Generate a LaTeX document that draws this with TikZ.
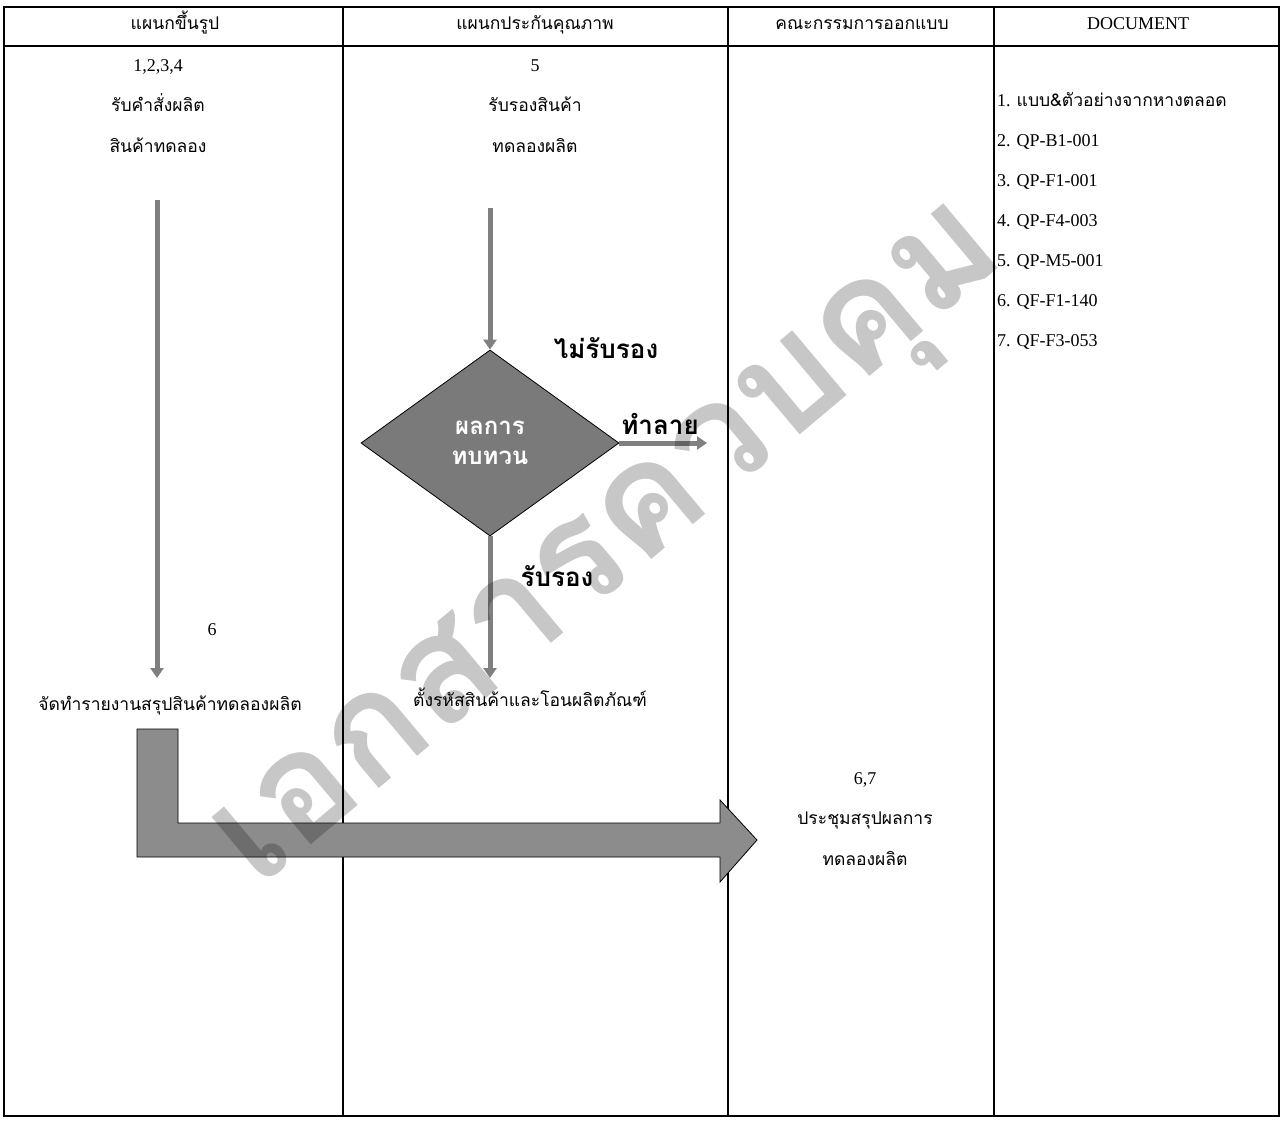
\documentclass[tikz,border=0pt]{standalone}
\usepackage{fontspec}
\setmainfont{Liberation Serif}
\newfontfamily\thaifont[Script=Thai]{Loma}
\usetikzlibrary{arrows.meta,shapes.geometric,positioning}

\tikzset{
  lane/.style = {line width=1.3pt},
  ln/.style = {inner sep=0pt, text height=12pt, text depth=5pt},
  th/.style = {ln, font=\thaifont\fontsize{17.5}{20}\selectfont},
  lat/.style = {ln, font=\fontsize{18}{20}\selectfont},
  big/.style = {inner sep=0pt, font=\thaifont\bfseries\fontsize{26}{30}\selectfont},
  decide/.style = {diamond, draw=black, fill=black!52, line width=0.8pt,
                   minimum width=258pt, minimum height=186pt, inner sep=0pt,
                   text=white, align=center,
                   font=\thaifont\bfseries\fontsize{24}{30}\selectfont},
  flow/.style = {draw=black!50, line width=5pt,
                 -{Triangle[width=13pt,length=10pt]}},
  block/.style = {draw=black, line width=0.8pt, fill=black!45},
  wm/.style = {inner sep=0pt, text=black, text opacity=0.22,
               font=\thaifont\bfseries\fontsize{152}{152}\selectfont}
}

\begin{document}
\begin{tikzpicture}[x=1pt, y=-1pt, node distance=23pt]
\useasboundingbox (0,0) rectangle (1281,1120);

% lanes
\draw[lane] (4,7) rectangle (1279,1116);
\draw[lane] (4,46) -- (1279,46);
\foreach \xx in {343,728,994}
  \draw[lane] (\xx,7) -- (\xx,1116);

% headers
\node[th] (h1) at (175,26) {แผนกขึ้นรูป};
\node[th] (h2) at (535,26) {แผนกประกันคุณภาพ};
\node[th] (h3) at (862,26) {คณะกรรมการออกแบบ};
\node[lat] (h4) at (1138,26) {DOCUMENT};

% lane 1
\node[lat] (c1a) at (158,68) {1,2,3,4};
\node[th, below=of c1a] (c1b) {รับคำสั่งผลิต};
\node[th, below=of c1b] (c1c) {สินค้าทดลอง};
\node[lat] (n6) at (212,632) {6};
\node[th] (rep) at (170,707) {จัดทำรายงานสรุปสินค้าทดลองผลิต};
\coordinate (c1s) at (157,200);
\draw[flow] (c1s) -- (c1s |- 0,678);

% lane 2
\node[lat] (c2a) at (535,68) {5};
\node[th, below=of c2a] (c2b) {รับรองสินค้า};
\node[th, below=of c2b] (c2c) {ทดลองผลิต};
\node[decide] (chk) at (490,443) {ผลการ\\ทบทวน};
\coordinate (c2s) at (490,208);
\draw[flow] (c2s) -- (chk.north);
\node[big] (no) at (606,348) {ไม่รับรอง};
\node[big] (kill) at (660,424) {ทำลาย};
\coordinate (drop) at (707,443);
\draw[flow] (chk.east) -- (drop);
\node[big] (yes) at (557,576) {รับรอง};
\node[th] (code) at (530,703) {ตั้งรหัสสินค้าและโอนผลิตภัณฑ์};
\draw[flow] (chk.south) -- (chk.south |- 0,678);

% lane 3
\node[lat] (c3a) at (865,781) {6,7};
\node[th, below=of c3a] (c3b) {ประชุมสรุปผลการ};
\node[th, below=of c3b] (c3c) {ทดลองผลิต};

% big arrow to the meeting
\draw[block] (137,729) -- (178,729) -- (178,823) -- (720,823) -- (720,800)
  -- (757,840) -- (720,882) -- (720,857) -- (137,857) -- cycle;

% documents
\node[lat, anchor=west] (d1) at (997,103) {1. {\thaifont\fontsize{17.5}{20}\selectfont แบบ\&ตัวอย่างจากหางตลอด}};
\foreach \i/\doc in {2/QP-B1-001,3/QP-F1-001,4/QP-F4-003,5/QP-M5-001,6/QF-F1-140,7/QF-F3-053}
  \node[lat, anchor=west] (d\i) at (997,{103+40*(\i-1)}) {\i. \doc};

% watermark
\node[wm, rotate=40] (stamp) at (618,555) {เอกสารควบคุม};
\end{tikzpicture}
\end{document}
